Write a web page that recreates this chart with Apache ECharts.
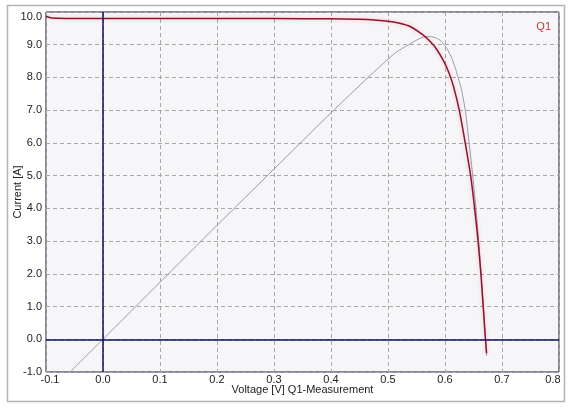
<!DOCTYPE html>
<html>
<head>
<meta charset="utf-8">
<script src="https://cdn.jsdelivr.net/npm/echarts@6/dist/echarts.min.js"></script>
<style>
  html, body { margin: 0; padding: 0; background: #fff; }
  #chart { width: 568px; height: 410px; }
</style>
</head>
<body>
<div id="chart"></div>
<script>
  // I-V curve of Q1 (red)
  const ivVoltage = [-0.1, -0.09, 0.0, 0.1, 0.2, 0.3, 0.4, 0.465, 0.498, 0.512, 0.536, 0.559, 0.574, 0.585, 0.597, 0.606, 0.615, 0.625, 0.635, 0.645, 0.652, 0.658, 0.663, 0.667, 0.671, 0.673]
  const ivCurrent = [9.87, 9.82, 9.80, 9.80, 9.80, 9.80, 9.79, 9.77, 9.72, 9.69, 9.58, 9.33, 9.10, 8.87, 8.52, 8.18, 7.72, 7.0, 6.05, 5.0, 4.0, 3.0, 2.0, 1.0, 0.0, -0.43]

  // power-like curve (grey)
  const pvVoltage = [-0.06, 0.0, 0.1, 0.2, 0.3, 0.4, 0.465, 0.512, 0.536, 0.559, 0.574, 0.585, 0.594, 0.603, 0.612, 0.620, 0.629, 0.636, 0.642, 0.648, 0.654, 0.659, 0.663, 0.667, 0.671, 0.673]
  const pvValue = [-1.04, 0.0, 1.74, 3.48, 5.2, 6.92, 8.0, 8.74, 9.0, 9.22, 9.25, 9.20, 9.10, 8.89, 8.59, 8.18, 7.62, 6.95, 6.05, 5.1, 4.05, 3.05, 2.1, 1.1, 0.0, -0.5]

  const xMin = -0.1
  const xMax = 0.8
  const yMin = -1
  const yMax = 10

  const myChart = echarts.init(document.getElementById('chart'))

  const option = {
    animation: false,
    textStyle: {
      fontFamily: 'Liberation Sans, Arial, sans-serif'
    },
    graphic: [{
      type: 'rect',
      shape: { x: 7.5, y: 5.5, width: 557, height: 396 },
      style: { fill: 'none', stroke: '#b4b4b4', lineWidth: 1.5 },
      z: -10
    }],
    legend: {
      data: ['Q1'],
      icon: 'none',
      itemWidth: 0,
      right: 12,
      top: 15,
      textStyle: {
        color: '#c83a3a',
        fontSize: 11
      }
    },
    grid: {
      show: true,
      left: 46,
      right: 9,
      top: 12,
      bottom: 38,
      outerBoundsMode: 'none',
      containLabel: false,
      backgroundColor: '#f6f6f9',
      borderColor: '#161630',
      borderWidth: 1
    },
    xAxis: {
      type: 'value',
      min: xMin,
      max: xMax,
      interval: 0.1,
      name: 'Voltage [V] Q1-Measurement',
      nameLocation: 'middle',
      nameGap: 12,
      nameMoveOverlap: false,
      nameTextStyle: { color: '#222', fontSize: 11 },
      axisLine: { show: false },
      axisTick: { show: false },
      axisLabel: {
        color: '#222',
        fontSize: 11,
        margin: 2,
        formatter: v => {
          const s = v.toFixed(1)
          if (v <= xMin + 1e-6) return '{l|' + s + '}'
          if (v >= xMax - 1e-6) return '{r|' + s + '}'
          return s
        },
        rich: {
          l: { color: '#222', fontSize: 11, padding: [0, 0, 0, 8] },
          r: { color: '#222', fontSize: 11, padding: [0, 12, 0, 0] }
        }
      },
      splitLine: {
        lineStyle: { color: '#a8a8a8', type: [4, 3], width: 1 }
      }
    },
    yAxis: {
      type: 'value',
      min: yMin,
      max: yMax,
      interval: 1,
      name: 'Current [A]',
      nameLocation: 'middle',
      nameGap: 23,
      nameMoveOverlap: false,
      nameTextStyle: { color: '#222', fontSize: 11 },
      axisLine: { show: false },
      axisTick: { show: false },
      axisLabel: {
        color: '#222',
        fontSize: 11,
        margin: 4,
        formatter: v => v >= yMax ? '{t|' + v.toFixed(1) + '}' : v.toFixed(1),
        rich: {
          t: { color: '#222', fontSize: 11, padding: [10, 0, 0, 0] }
        }
      },
      splitLine: {
        lineStyle: { color: '#a8a8a8', type: [4, 3], width: 1 }
      }
    },
    series: [{
      name: 'P',
      type: 'line',
      showSymbol: false,
      smooth: 0.2,
      z: 2,
      data: pvVoltage.map((v, i) => [v, pvValue[i]]),
      lineStyle: { color: '#9a9aac', width: 1 },
      markLine: {
        silent: true,
        symbol: ['none', 'none'],
        label: { show: false },
        lineStyle: { color: '#10105a', width: 1.5, type: 'solid' },
        data: [{ xAxis: 0 }, { yAxis: 0 }]
      }
    }, {
      name: 'Q1',
      type: 'line',
      showSymbol: false,
      smooth: 0.2,
      z: 3,
      data: ivVoltage.map((v, i) => [v, ivCurrent[i]]),
      lineStyle: {
        color: '#8c1430',
        width: 1.5,
        shadowColor: 'rgba(255, 70, 70, 0.35)',
        shadowBlur: 4
      }
    }]
  }

  myChart.setOption(option)
</script>
</body>
</html>
